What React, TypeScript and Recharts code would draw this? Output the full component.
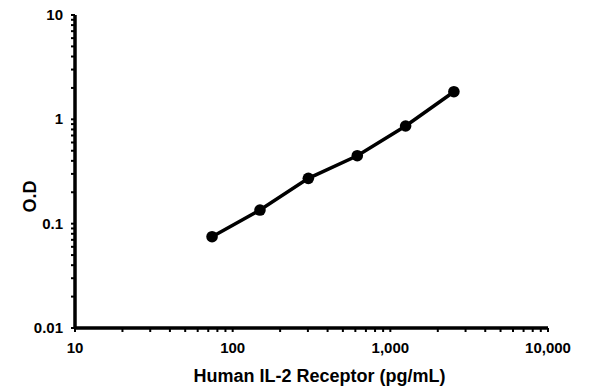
import { LineChart, Line, XAxis, YAxis } from "recharts"

// standard curve
const concentration = [74, 149, 302, 617, 1250, 2530]
const opticalDensity = [0.075, 0.135, 0.272, 0.448, 0.863, 1.84]

const xMajorTicks = [10, 100, 1000, 10000]
const yMajorTicks = [0.01, 0.1, 1, 10]
const xLabels = ["10", "100", "1,000", "10,000"]
const yLabels = ["0.01", "0.1", "1", "10"]

const minorSteps = [1, 2, 3, 4, 5, 6, 7, 8, 9]

const withMinor = (majors: number[]) => {
  const out: number[] = []
  majors.slice(0, -1).forEach((m) => minorSteps.forEach((s) => out.push(+(m * s).toPrecision(6))))
  out.push(majors[majors.length - 1])
  return out
}

const xTicks = withMinor(xMajorTicks)
const yTicks = withMinor(yMajorTicks)

const data = concentration.map((c, i) => ({ conc: c, od: opticalDensity[i] }))

const font = "'Liberation Sans', Arial, sans-serif"

const XTick = (props: any) => {
  const { x, y, payload } = props
  const idx = xMajorTicks.indexOf(payload.value)
  return (
    <g>
      <line x1={x} x2={x} y1={y} y2={y + 4} stroke="#000" strokeWidth={2} />
      {idx >= 0 && (
        <text x={x} y={y + 25} textAnchor="middle" fontFamily={font} fontWeight="bold" fontSize={15} fill="#000">
          {xLabels[idx]}
        </text>
      )}
    </g>
  )
}

const YTick = (props: any) => {
  const { x, y, payload } = props
  const idx = yMajorTicks.indexOf(payload.value)
  return (
    <g>
      <line x1={x} x2={x - 4} y1={y} y2={y} stroke="#000" strokeWidth={2} />
      {idx >= 0 && (
        <text x={x - 12} y={y + 5} textAnchor="end" fontFamily={font} fontWeight="bold" fontSize={15} fill="#000">
          {yLabels[idx]}
        </text>
      )}
    </g>
  )
}

const YTitle = (props: any) => {
  const { viewBox } = props
  const cx = viewBox.x + 36
  const cy = viewBox.y + viewBox.height / 2 + 25
  return (
    <text x={cx} y={cy} transform={`rotate(-90, ${cx}, ${cy})`} textAnchor="middle" fontFamily={font} fontWeight="bold" fontSize={18} fill="#000">
      O.D
    </text>
  )
}

export default function App() {
  return (
    <div style={{ position: "absolute", left: 0, top: 0, width: 595, height: 391, background: "#fff" }}>
      <LineChart width={595} height={391} data={data} margin={{ top: 15, right: 47, left: 0, bottom: 0 }}>
        <XAxis
          dataKey="conc"
          type="number"
          scale="log"
          domain={[10, 10000]}
          ticks={xTicks}
          interval={0}
          allowDataOverflow
          height={63}
          tickSize={0}
          tickMargin={0}
          tick={<XTick />}
          axisLine={{ stroke: "#000", strokeWidth: 3.5 }}
          label={{ value: "Human IL-2 Receptor (pg/mL)", position: "insideBottom", offset: 9, dx: 8, fontFamily: font, fontWeight: "bold", fontSize: 18, fill: "#000" }}
        />
        <YAxis
          dataKey="od"
          type="number"
          scale="log"
          domain={[0.01, 10]}
          ticks={yTicks}
          interval={0}
          allowDataOverflow
          width={75}
          tickSize={0}
          tickMargin={0}
          tick={<YTick />}
          axisLine={{ stroke: "#000", strokeWidth: 3.5 }}
          label={<YTitle />}
        />
        <Line
          dataKey="od"
          type="linear"
          stroke="#000"
          strokeWidth={3.5}
          dot={{ r: 5.8, fill: "#000", stroke: "#000", strokeWidth: 0 }}
          isAnimationActive={false}
        />
      </LineChart>
    </div>
  )
}
